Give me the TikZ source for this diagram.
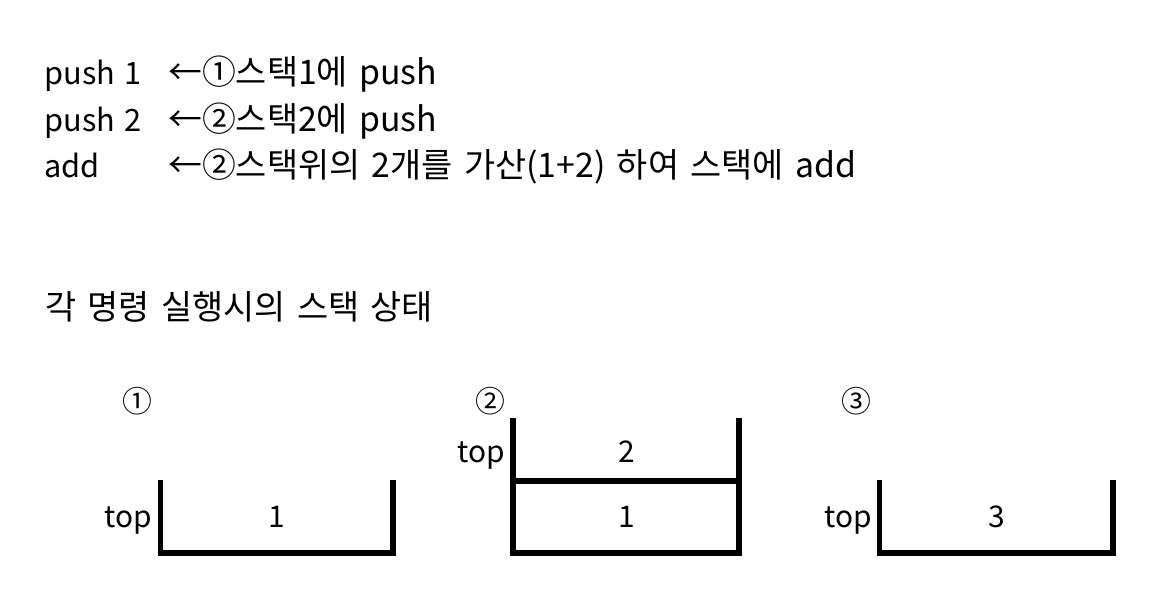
\documentclass[tikz,border=0pt]{standalone}
\usepackage{fontspec}
\setmainfont[WordSpace=1.4]{Noto Sans CJK KR}
\newfontfamily\krfont[Scale=1.1,WordSpace=1.5]{Noto Sans CJK KR}
\usetikzlibrary{positioning, calc}

\begin{document}
\begin{tikzpicture}[x=0.02cm,y=-0.02cm,
    wall/.style={line width=3.4pt},
    txt/.style={inner sep=0pt,anchor=base west,font=\fontsize{17.5}{20}\selectfont},
    kr/.style={txt,font=\fontsize{17.5}{20}\selectfont\krfont},
    val/.style={inner sep=0pt,anchor=base},
    toplbl/.style={inner sep=0pt,anchor=base east}]
        \fontsize{17}{20}\selectfont
        \useasboundingbox[fill=white] (0,0) rectangle (1166,594);
        % Program
        \node[txt](cmd_1) at (44,85) {push 1};
        \node[kr](cmt_1) at (168,85) {←①스택1에 push};
        \node[txt](cmd_2) at (44,132) {push 2};
        \node[kr](cmt_2) at (168,132) {←②스택2에 push};
        \node[txt](cmd_3) at (44,178) {add};
        \node[kr](cmt_3) at (168,178) {←②스택위의 2개를 가산(1+2) 하여 스택에 add};
        % Title
        \node[kr](title) at (45,320) {각 명령 실행시의 스택 상태};
        % Stack 1
        \node[inner sep=0pt](st1_no) at (137.5,401) {①};
        \coordinate (st1_l) at (160.5,480);
        \coordinate (st1_r) at (393,480);
        \draw[wall] (st1_l) |- (st1_r |- 0,553) -- (st1_r);
        \node[toplbl](st1_top) at (152,527) {top};
        \node[val](st1_v1) at (277,527) {1};
        % Stack 2
        \node[inner sep=0pt](st2_no) at (490,401) {②};
        \coordinate (st2_l) at (513,418);
        \coordinate (st2_r) at (739,418);
        \draw[wall] (st2_l) |- (st2_r |- 0,553) -- (st2_r);
        \draw[wall] (st2_l |- 0,481) -- (st2_r |- 0,481);
        \node[toplbl](st2_top) at (505,462) {top};
        \node[val](st2_v2) at (627,462) {2};
        \node[val](st2_v1) at (627,527) {1};
        % Stack 3
        \node[inner sep=0pt](st3_no) at (856,401) {③};
        \coordinate (st3_l) at (879.5,480);
        \coordinate (st3_r) at (1113,480);
        \draw[wall] (st3_l) |- (st3_r |- 0,553) -- (st3_r);
        \node[toplbl](st3_top) at (872,527) {top};
        \node[val](st3_v3) at (997,527) {3};
\end{tikzpicture}
\end{document}
